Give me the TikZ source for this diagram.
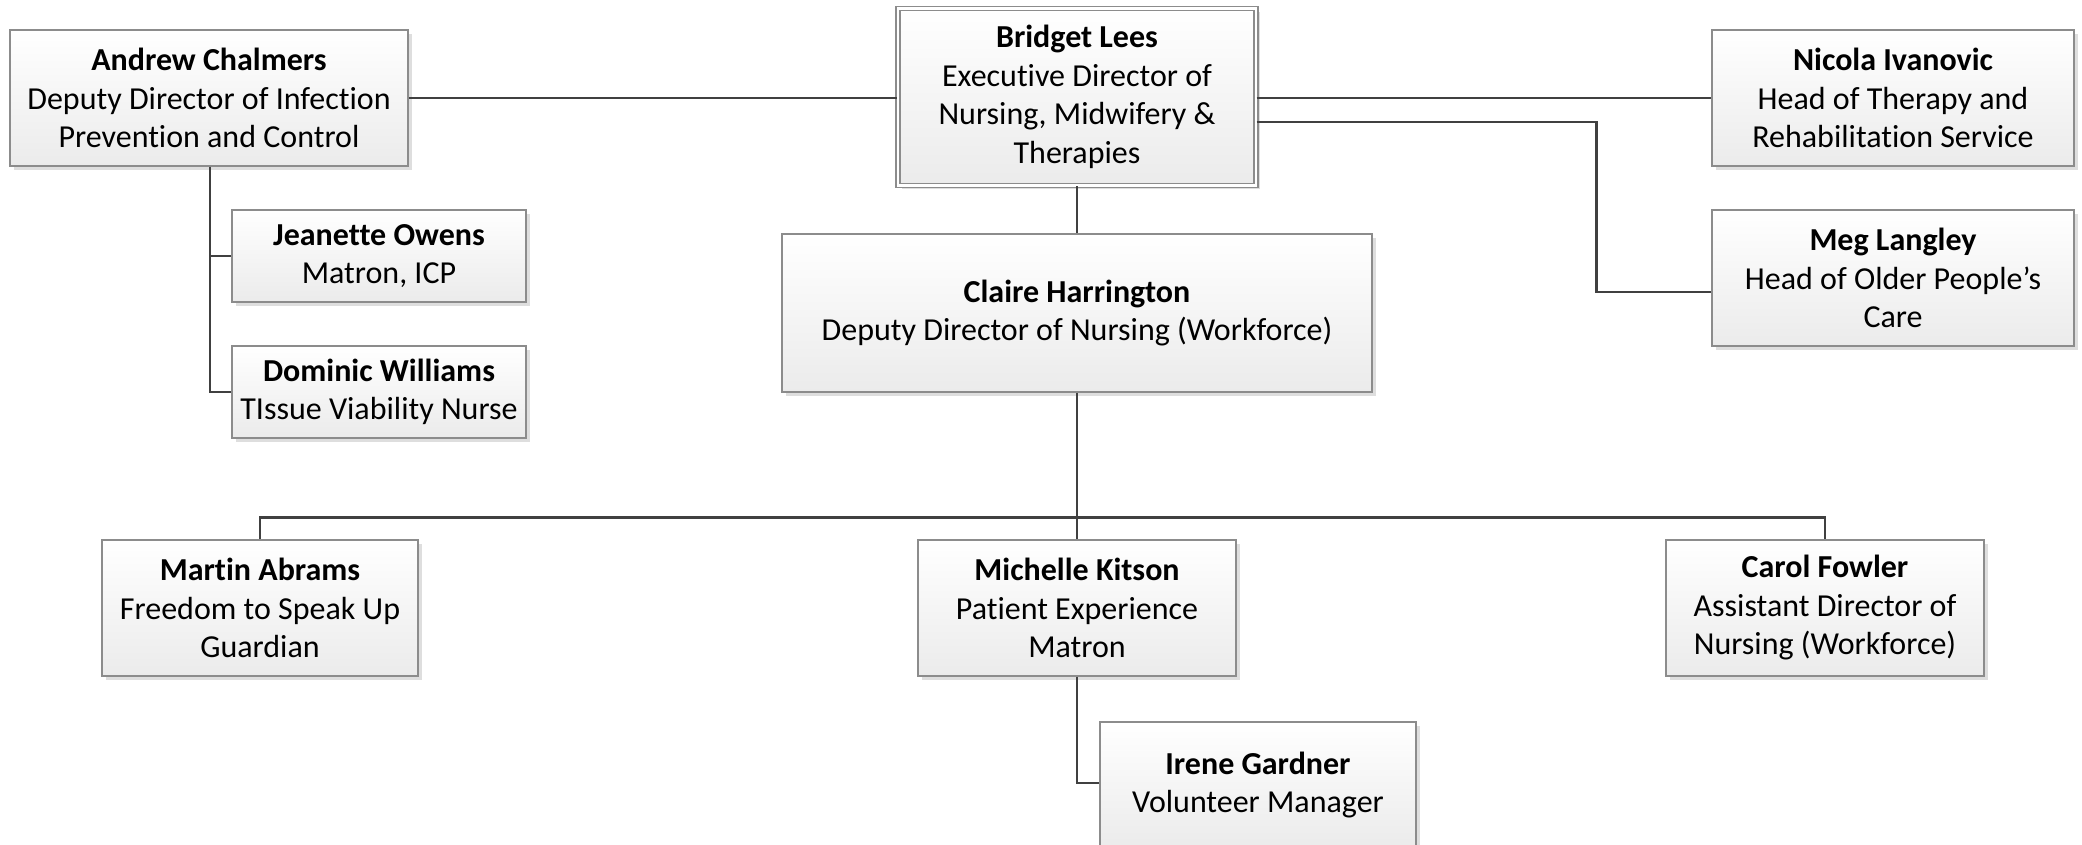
\documentclass[tikz,border=0pt]{standalone}
\usepackage{fontspec}
\setmainfont{Carlito}[Ligatures={NoCommon}]
\usetikzlibrary{shadows,calc}
\definecolor{boxline}{HTML}{8C8C8C}
\definecolor{conn}{HTML}{404040}
\definecolor{boxbot}{HTML}{EBEBEB}
\tikzset{
  person/.style={draw=boxline, line width=1.6pt, top color=white, bottom color=boxbot,
    inner sep=0pt, align=center, font=\fontsize{32}{38.5}\selectfont,
    general shadow={fill=black!13, shadow xshift=4pt, shadow yshift=-4pt}},
  link/.style={draw=conn, line width=2.6pt},
}
\begin{document}
\begin{tikzpicture}[x=1pt,y=-1pt]
\clip (0,0) rectangle (2082,845);
\fill[white] (0,0) rectangle (2082,845);
% nodes
\node[person, minimum width=398pt, minimum height=136pt] (ac) at (209,98)
  {\textbf{Andrew Chalmers}\\Deputy Director of Infection\\Prevention and Control};
\node[person, minimum width=294pt, minimum height=92pt] (jo) at (379,256)
  {\textbf{Jeanette Owens}\\Matron, ICP};
\node[person, minimum width=294pt, minimum height=92pt] (dw) at (379,392)
  {\textbf{Dominic Williams}\\TIssue Viability Nurse};
\node[person, double=white, double distance=2.6pt, line width=1.4pt,
  minimum width=358pt, minimum height=177pt] (bl) at (1077,97)
  {\textbf{Bridget Lees}\\Executive Director of\\Nursing, Midwifery \&\\Therapies};
\node[person, minimum width=362pt, minimum height=136pt] (ni) at (1893,98)
  {\textbf{Nicola Ivanovic}\\Head of Therapy and\\Rehabilitation Service};
\node[person, minimum width=362pt, minimum height=136pt] (ml) at (1893,278)
  {\textbf{Meg Langley}\\Head of Older People’s\\Care};
\node[person, minimum width=590pt, minimum height=158pt] (ch) at (1077,313)
  {\textbf{Claire Harrington}\\Deputy Director of Nursing (Workforce)};
\node[person, minimum width=316pt, minimum height=136pt] (ma) at (260,608)
  {\textbf{Martin Abrams}\\Freedom to Speak Up\\Guardian};
\node[person, minimum width=318pt, minimum height=136pt] (mk) at (1077,608)
  {\textbf{Michelle Kitson}\\Patient Experience\\Matron};
\node[person, minimum width=318pt, minimum height=136pt] (cf) at (1825,608)
  {\textbf{Carol Fowler}\\Assistant Director of\\Nursing (Workforce)};
\node[person, minimum width=316pt, minimum height=126pt] (ig) at (1258,785)
  {\textbf{Irene Gardner}\\Volunteer Manager};
% connectors
\draw[link] (ac.east) -- (bl.west |- ac.east);
\draw[link] (bl.east |- ni.west) -- (ni.west);
\draw[link] ([yshift=-25pt]bl.east) -| ([xshift=-115pt,yshift=-14pt]ml.west) -- ([yshift=-14pt]ml.west);
\draw[link] ([xshift=1pt]ac.south) |- (jo.west);
\draw[link] ([xshift=1pt]ac.south) |- (dw.west);
\draw[link] (bl.south) -- (ch.north);
\draw[link] (ch.south) -- (mk.north);
\draw[link] (ma.north) -- ++(0,-22) -| (cf.north);
\draw[link] (mk.south) |- ([yshift=2pt]ig.west);
\end{tikzpicture}
\end{document}
